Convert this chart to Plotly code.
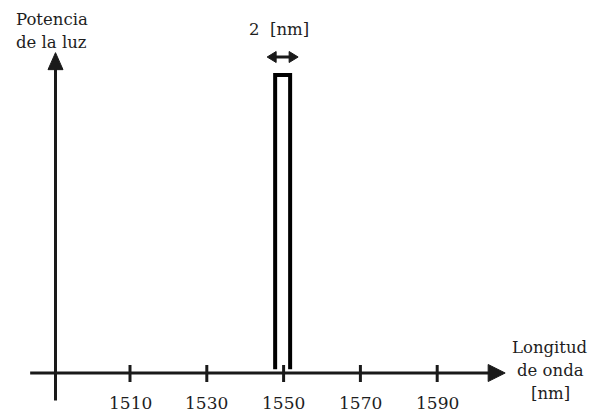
import plotly.graph_objects as go

# ---- data ----
tick_values = [1510, 1530, 1550, 1570, 1590]
tick_labels = ["1510", "1530", "1550", "1570", "1590"]
peak_left_nm = 1547.8
peak_right_nm = 1551.7
peak_power = 1.0
peak_base = 0.013
bandwidth_label = "2  [nm]"
y_title = ["Potencia", "de la luz"]
x_title = ["Longitud", "de onda", "[nm]"]

# ---- scale (px per unit) ----
W, H = 590, 413
PX_NM = 3.84          # pixels per nm
PX_P = 298.0          # pixels per power unit
x0 = 1510 - 130 / PX_NM
x1 = x0 + W / PX_NM
y0 = -(H - 373) / PX_P
y1 = 373 / PX_P

def nx(px):  # pixel offset -> nm
    return px / PX_NM
def py(px):
    return px / PX_P

INK = "#1a1a1a"
TXT = "#1e1e1e"
FONT = "DejaVu Serif"

yaxis_x = 1490.6
xaxis_start = 1484.0
xaxis_tip = 1607.7
yaxis_bottom = -0.092
yaxis_tip = 1.075

fig = go.Figure()

def line(xs, ys, w=3, color=INK):
    fig.add_trace(go.Scatter(x=xs, y=ys, mode="lines",
                             line=dict(color=color, width=w),
                             hoverinfo="skip", showlegend=False))

def tri(xs, ys):
    fig.add_trace(go.Scatter(x=xs + [xs[0]], y=ys + [ys[0]], mode="lines",
                             fill="toself", fillcolor=INK,
                             line=dict(color=INK, width=1),
                             hoverinfo="skip", showlegend=False))

# x axis
line([xaxis_start, xaxis_tip - nx(10)], [0, 0], w=3)
tri([xaxis_tip, xaxis_tip - nx(17), xaxis_tip - nx(17)],
    [0, py(8.5), -py(8.5)])
# y axis
line([yaxis_x, yaxis_x], [yaxis_bottom, yaxis_tip - py(10)], w=3)
tri([yaxis_x, yaxis_x - nx(7.5), yaxis_x + nx(7.5)],
    [yaxis_tip, yaxis_tip - py(17), yaxis_tip - py(17)])

# ticks
for t in tick_values:
    line([t, t], [py(8), -py(9)], w=3)

# peak (rectangular spectrum)
line([peak_left_nm, peak_left_nm, peak_right_nm, peak_right_nm],
     [peak_base, peak_power, peak_power, peak_base], w=4, color="#000000")

# bandwidth double arrow
ay = peak_power + py(18)
al = peak_left_nm - nx(8)
ar = peak_right_nm + nx(8)
line([al + nx(6), ar - nx(6)], [ay, ay], w=3)
tri([al, al + nx(9), al + nx(9)], [ay, ay + py(5.5), ay - py(5.5)])
tri([ar, ar - nx(9), ar - nx(9)], [ay, ay + py(5.5), ay - py(5.5)])

annotations = []
for t, lab in zip(tick_values, tick_labels):
    annotations.append(dict(x=t, y=-py(30), xref="x", yref="y", text=lab,
                            showarrow=False, xanchor="center", yanchor="middle",
                            font=dict(family=FONT, size=17, color=TXT)))

annotations.append(dict(x=(peak_left_nm + peak_right_nm) / 2 - nx(4), y=peak_power + py(46),
                        xref="x", yref="y", text=bandwidth_label, showarrow=False,
                        xanchor="center", yanchor="middle",
                        font=dict(family=FONT, size=16.5, color=TXT)))

for i, s in enumerate(y_title):
    annotations.append(dict(x=14 / W, y=1 - (19 + 24 * i) / H, xref="paper", yref="paper",
                            text=s, showarrow=False, xanchor="left", yanchor="middle",
                            font=dict(family=FONT, size=16.5, color=TXT)))
for i, s in enumerate(x_title):
    annotations.append(dict(x=550 / W, y=1 - (347 + 23 * i) / H, xref="paper", yref="paper",
                            text=s, showarrow=False, xanchor="center", yanchor="middle",
                            font=dict(family=FONT, size=16.5, color=TXT)))

fig.update_layout(
    width=W, height=H,
    margin=dict(l=0, r=0, t=0, b=0),
    paper_bgcolor="white", plot_bgcolor="white",
    xaxis=dict(range=[x0, x1], visible=False, fixedrange=True),
    yaxis=dict(range=[y0, y1], visible=False, fixedrange=True),
    annotations=annotations,
    showlegend=False,
)

fig.write_html("out.html")
